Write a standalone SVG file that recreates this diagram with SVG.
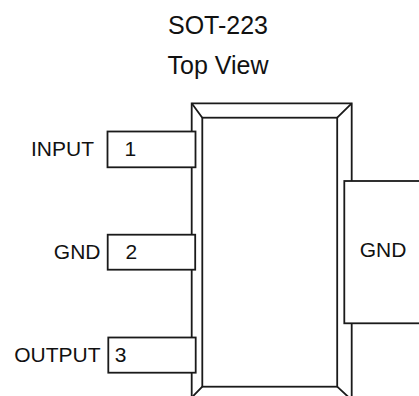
<svg xmlns="http://www.w3.org/2000/svg" width="419" height="396" viewBox="0 0 419 396">
<style>
.ln{fill:none;stroke:#1a1a1a;stroke-width:1.8}
.bx{fill:#ffffff;stroke:#1a1a1a;stroke-width:1.8}
.t{font-family:"Liberation Sans",Arial,sans-serif;font-size:21px;fill:#111111}
.h{font-family:"Liberation Sans",Arial,sans-serif;font-size:25px;fill:#111111;text-anchor:middle}
</style>
<rect width="419" height="396" fill="#ffffff"/>
<g id="title">
<text class="h" x="218" y="34">SOT-223</text>
<text class="h" x="218" y="74">Top View</text>
</g>
<g id="body">
<path class="ln" d="M191.7,400 V103.3 H351.7 V400"/>
<rect class="ln" x="202.3" y="117.7" width="134.9" height="269"/>
<path class="ln" d="M191.7,103.3 L202.3,117.7 M351.7,103.3 L337.2,117.7 M202.3,386.7 L191.7,397.5 M337.2,386.7 L351.7,400"/>
</g>
<g id="connectors"></g>
<g id="pin1">
<rect class="bx" x="107.5" y="131.5" width="88" height="35.8"/>
<text class="t" x="124.5" y="155.5">1</text>
<text class="t" x="94" y="155.5" text-anchor="end">INPUT</text>
</g>
<g id="pin2">
<rect class="bx" x="107.7" y="234.7" width="87.5" height="35"/>
<text class="t" x="125.4" y="259">2</text>
<text class="t" x="100.5" y="259" text-anchor="end">GND</text>
</g>
<g id="pin3">
<rect class="bx" x="108.3" y="337.5" width="87.4" height="35.2"/>
<text class="t" x="114.8" y="361.5">3</text>
<text class="t" x="100.5" y="361.5" text-anchor="end">OUTPUT</text>
</g>
<g id="tab">
<rect class="bx" x="344.3" y="181" width="90" height="142.3"/>
<text class="t" x="359.7" y="257.3">GND</text>
</g>
</svg>
